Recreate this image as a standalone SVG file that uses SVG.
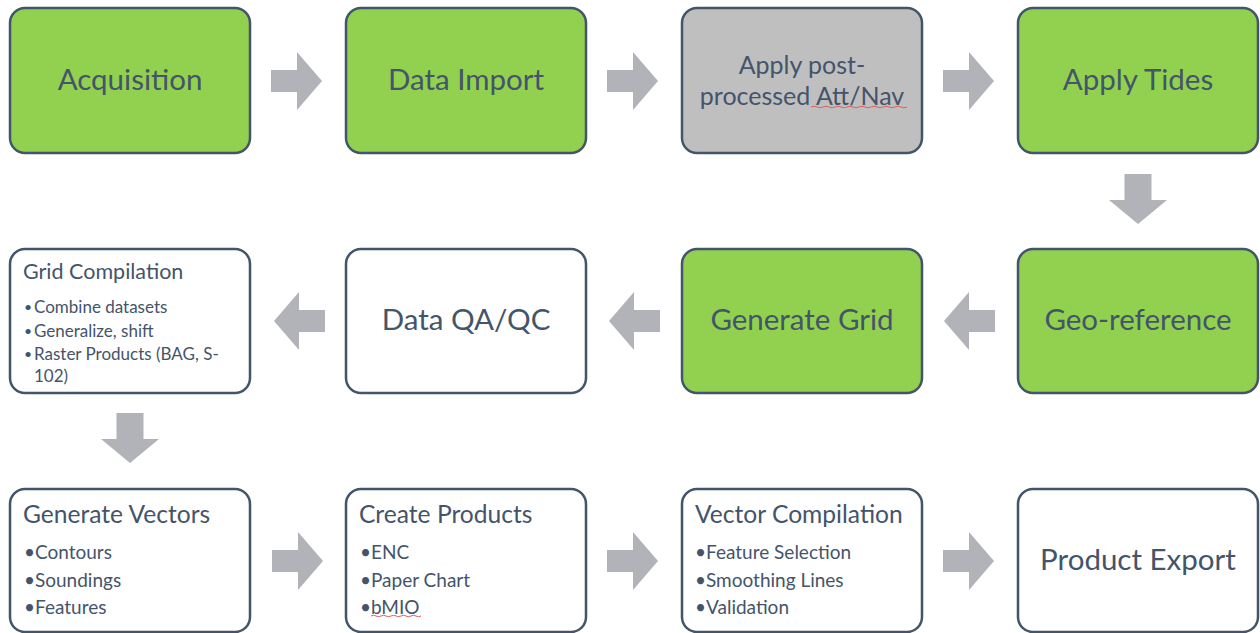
<svg xmlns="http://www.w3.org/2000/svg" width="1260" height="633" viewBox="0 0 1260 633">
<style>
.box{stroke:#44546a;stroke-width:2.5}
.g{fill:#92d050}
.gr{fill:#bfbfbf}
.w{fill:#ffffff}
text{font-family:Lato,"Liberation Sans",sans-serif;fill:#44546a}
.big{font-size:29.5px;text-anchor:middle}
.mid{font-size:25px;text-anchor:middle}
.t1{font-size:24.6px}
.b1{font-size:19px}
.t2{font-size:21.5px}
.b2{font-size:17px}
.dot{font-size:14px}
.arr{fill:#b1b3b9}
.sq{stroke:#e06060;stroke-width:1;fill:none}
</style>
<defs>
<path id="ar" d="M0,-11 H26 V-29 L51,0 L26,29 V11 H0 Z"/>
<path id="al" d="M0,-11 H-26 V-29 L-51,0 L-26,29 V11 H0 Z"/>
<path id="ad" d="M-13.5,0 H13.5 V26 H29 L0,50 L-29,26 H-13.5 Z"/>
</defs>
<g id="connectors">
<use href="#ar" class="arr" x="271" y="81"/>
<use href="#ar" class="arr" x="607" y="81"/>
<use href="#ar" class="arr" x="943" y="81"/>
<use href="#ad" class="arr" x="1138" y="174"/>
<use href="#al" class="arr" x="995" y="321"/>
<use href="#al" class="arr" x="660" y="321"/>
<use href="#al" class="arr" x="325" y="321"/>
<use href="#ad" class="arr" x="130" y="413"/>
<use href="#ar" class="arr" x="272" y="561"/>
<use href="#ar" class="arr" x="607" y="561"/>
<use href="#ar" class="arr" x="943" y="561"/>
</g>
<g id="n1"><rect class="box g" x="10" y="8" width="240" height="145" rx="15"/><text class="big" x="130" y="90">Acquisition</text></g>
<g id="n2"><rect class="box g" x="346" y="8" width="240" height="145" rx="15"/><text class="big" x="466" y="90">Data Import</text></g>
<g id="n3"><rect class="box gr" x="682" y="8" width="240" height="145" rx="15"/><text class="mid" x="802" y="74">Apply post-</text><text class="mid" x="802" y="105">processed Att/Nav</text><path class="sq" d="M811,107 q3,-1.5 6,0 t6,0 t6,0 t6,0 t6,0 t6,0 t6,0 t6,0 t6,0 t6,0 t6,0 t6,0 t6,0 t6,0 t6,0 t6,0"/></g>
<g id="n4"><rect class="box g" x="1018" y="8" width="240" height="145" rx="15"/><text class="big" x="1138" y="90">Apply Tides</text></g>
<g id="n5"><rect class="box g" x="1018" y="249" width="240" height="144" rx="15"/><text class="big" x="1138" y="330">Geo-reference</text></g>
<g id="n6"><rect class="box g" x="682" y="249" width="240" height="144" rx="15"/><text class="big" x="802" y="330">Generate Grid</text></g>
<g id="n7"><rect class="box w" x="346" y="249" width="240" height="144" rx="15"/><text class="big" x="466" y="330">Data QA/QC</text></g>
<g id="n8"><rect class="box w" x="10" y="249" width="240" height="144" rx="15"/>
<text class="t2" x="23" y="279">Grid Compilation</text>
<text class="dot" x="24" y="312">•</text><text class="b2" x="34" y="313">Combine datasets</text>
<text class="dot" x="24" y="336">•</text><text class="b2" x="34" y="337">Generalize, shift</text>
<text class="dot" x="24" y="359">•</text><text class="b2" x="34" y="360">Raster Products (BAG, S-</text>
<text class="b2" x="34" y="382">102)</text></g>
<g id="n9"><rect class="box w" x="10" y="489" width="240" height="143" rx="15"/>
<text class="t1" x="23" y="523">Generate Vectors</text>
<text class="b1" x="24" y="559">•<tspan x="35">Contours</tspan></text>
<text class="b1" x="24" y="587">•<tspan x="35">Soundings</tspan></text>
<text class="b1" x="24" y="614">•<tspan x="35">Features</tspan></text></g>
<g id="n10"><rect class="box w" x="346" y="489" width="240" height="143" rx="15"/>
<text class="t1" x="359" y="523">Create Products</text>
<text class="b1" x="360" y="559">•<tspan x="371">ENC</tspan></text>
<text class="b1" x="360" y="587">•<tspan x="371">Paper Chart</tspan></text>
<text class="b1" x="360" y="614">•<tspan x="371">bMIO</tspan></text>
<path class="sq" d="M371,616 q2.5,-1.5 5,0 t5,0 t5,0 t5,0 t5,0 t5,0 t5,0 t5,0 t5,0 t5,0"/></g>
<g id="n11"><rect class="box w" x="682" y="489" width="240" height="143" rx="15"/>
<text class="t1" x="695" y="523">Vector Compilation</text>
<text class="b1" x="695" y="559">•<tspan x="706">Feature Selection</tspan></text>
<text class="b1" x="695" y="587">•<tspan x="706">Smoothing Lines</tspan></text>
<text class="b1" x="695" y="614">•<tspan x="706">Validation</tspan></text></g>
<g id="n12"><rect class="box w" x="1018" y="489" width="240" height="143" rx="15"/><text class="big" x="1138" y="570">Product Export</text></g>
</svg>
